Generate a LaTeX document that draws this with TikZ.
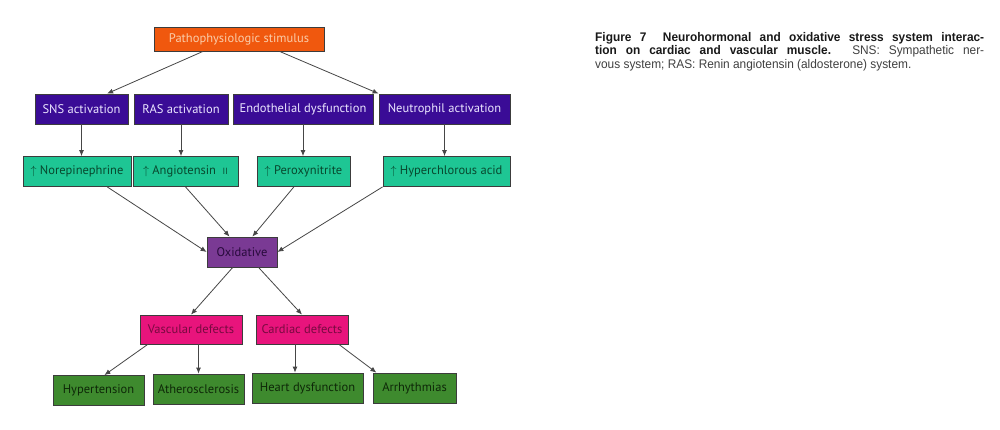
\documentclass[tikz,border=0pt]{standalone}
\usepackage{fontspec}
\setmainfont{PT Sans}
\newfontfamily\capfont[FakeStretch=0.95]{Liberation Sans}
\usepackage{xcolor}
\usetikzlibrary{arrows.meta}
\usetikzlibrary{calc}
\definecolor{stimorange}{RGB}{240,88,14}
\definecolor{stimtext}{RGB}{250,205,170}
\definecolor{actblue}{RGB}{58,12,150}
\definecolor{acttext}{RGB}{235,230,255}
\definecolor{medteal}{RGB}{30,198,148}
\definecolor{medtext}{RGB}{8,72,46}
\definecolor{oxpurple}{RGB}{122,58,148}
\definecolor{oxtext}{RGB}{40,10,60}
\definecolor{defmagenta}{RGB}{232,20,124}
\definecolor{deftext}{RGB}{120,10,64}
\definecolor{outgreen}{RGB}{62,138,46}
\definecolor{outtext}{RGB}{14,40,8}
\definecolor{boxline}{RGB}{60,60,60}
\definecolor{arrowgray}{RGB}{70,70,70}
\tikzset{
    box/.style={draw=boxline, line width=0.8pt, inner sep=0pt, minimum height=30pt, font=\fontsize{12.5}{13}\selectfont},
    link/.style={-{Latex[length=6pt,width=5pt]}, draw=arrowgray, line width=0.8pt}
}

\begin{document}
\begin{tikzpicture}[x=1pt,y=-1pt]
\useasboundingbox[fill=white] (0,0) rectangle (1000,430);
\node[box, fill=stimorange, text=stimtext, minimum width=170pt, minimum height=24pt] (stim) at (239,39) {Pathophysiologic stimulus};
\foreach \x/\w/\p/\t in {81.5/93/sns/{SNS activation}, 181/94/ras/{RAS activation}, 303/140/endo/{Endothelial dysfunction}, 444.5/131/neu/{Neutrophil activation}}{
    \node[box, fill=actblue, text=acttext, minimum width=\w pt] (\p) at (\x,109) {\t};
}
\foreach \x/\w/\p/\t in {77/108/nor/{$\uparrow$ Norepinephrine}, 185.5/105/ang/{$\uparrow$ Angiotensin\ \ {\fontsize{9}{9}\selectfont II}}, 303.5/93/per/{$\uparrow$ Peroxynitrite}, 446.5/127/hyp/{$\uparrow$ Hyperchlorous acid}}{
    \node[box, fill=medteal, text=medtext, minimum width=\w pt] (\p) at (\x,171.5) {\t};
}
\node[box, fill=oxpurple, text=oxtext, minimum width=70pt] (ox) at (242,252) {Oxidative};
\node[box, fill=defmagenta, text=deftext, minimum width=102pt, minimum height=29pt] (vas) at (191,329.5) {Vascular defects};
\node[box, fill=defmagenta, text=deftext, minimum width=92pt, minimum height=29pt] (car) at (302,329.5) {Cardiac defects};
\foreach \x/\y/\w/\p/\t in {98.5/390.5/91/hyt/Hypertension, 198.5/389/91/ath/Atherosclerosis, 307.5/388/111/hd/{Heart dysfunction}, 414.5/388/83/arr/Arrhythmias}{
    \node[box, fill=outgreen, text=outtext, minimum width=\w pt] (\p) at (\x,\y) {\t};
}
% stimulus to activation
\draw[link] (stim.199) -- (sns.31);
\draw[link] (stim.-17) -- (neu.north west);
% activation to mediators
\draw[link] (sns.south) -- (sns.south |- nor.north);
\draw[link] (ras.south) -- (ras.south |- ang.north);
\draw[link] (endo.south) -- (endo.south |- per.north);
\draw[link] (neu.south) -- (neu.south |- hyp.north);
% mediators to oxidative
\draw[link] (nor.-27) -- (ox.west);
\draw[link] (ang.south) -- (ox.129);
\draw[link] (per.238) -- (ox.56);
\draw[link] (hyp.south west) -- (ox.east);
% oxidative to defects
\draw[link] (ox.239) -- (vas.north);
\draw[link] (ox.-43) -- (car.north);
% defects to outcomes
\draw[link] (vas.199) -- (hyt.69);
\draw[link] (ath.north |- vas.south) -- (ath.north);
\draw[link] ($(car.south)+(-7,0)$) -- ($(hd.north)+(-12.5,0)$);
\draw[link] (car.-22) -- (arr.158);
% caption
\node[anchor=north west, text width=389pt, align=justify, inner sep=0pt, text=black!75, font=\capfont\fontsize{12.5}{13.7}\selectfont] (cap) at (595,32)
    {{\bfseries\color{black!90}Figure 7\ \ Neurohormonal and oxidative stress system interac-\linebreak tion on cardiac and vascular muscle.} SNS: Sympathetic ner-\linebreak vous system; RAS: Renin angiotensin (aldosterone) system.};
\end{tikzpicture}
\end{document}
